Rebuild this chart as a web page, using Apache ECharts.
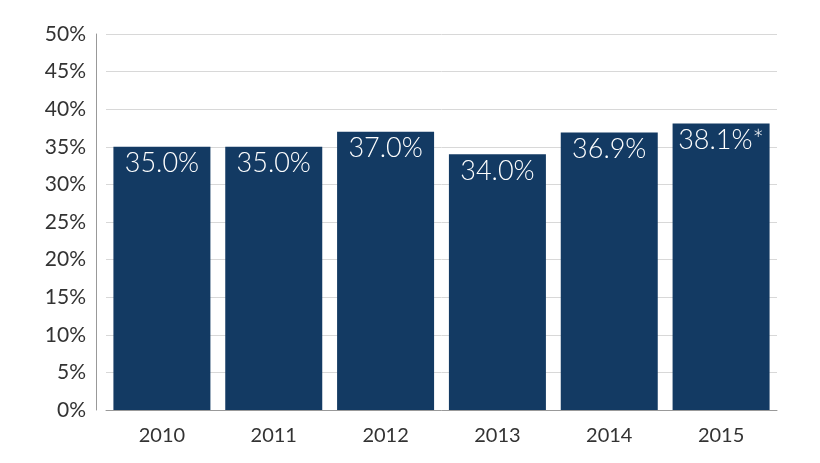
<!DOCTYPE html>
<html>
<head>
<meta charset="utf-8">
<script src="https://cdn.jsdelivr.net/npm/echarts@6/dist/echarts.min.js"></script>
<style>html,body{margin:0;background:#fff}</style>
</head>
<body>
<div id="chart" style="width:820px;height:463px"></div>
<script>
var years = ['2010', '2011', '2012', '2013', '2014', '2015']
var values = [35.0, 35.0, 37.0, 34.0, 36.9, 38.1]
var labels = ['35.0%', '35.0%', '37.0%', '34.0%', '36.9%', '38.1%*']

var chart = echarts.init(document.getElementById('chart'))
chart.setOption({
  animation: false,
  grid: { left: 106, right: 43, top: 34, bottom: 53 },
  xAxis: {
    type: 'category',
    data: years,
    axisTick: { show: false },
    axisLine: { lineStyle: { color: '#999' } },
    axisLabel: { color: '#333', fontSize: 20, fontFamily: 'Lato', margin: 16 }
  },
  yAxis: {
    type: 'value',
    min: 0, max: 50, interval: 5,
    offset: 10,
    axisLine: { show: true, lineStyle: { color: '#999' } },
    axisLabel: { color: '#333', fontSize: 21, fontFamily: 'Lato', formatter: '{value}%', margin: 10 },
    splitLine: { lineStyle: { color: '#d8d8d8' } }
  },
  series: [{
    type: 'bar',
    data: values,
    barWidth: 97,
    itemStyle: { color: '#133a63' },
    label: {
      show: true,
      position: 'insideTop',
      distance: 3,
      color: '#fff',
      fontSize: 27,
      fontWeight: 300,
      fontFamily: 'Lato',
      formatter: function (p) { return labels[p.dataIndex] }
    }
  }]
})
</script>
</body>
</html>
